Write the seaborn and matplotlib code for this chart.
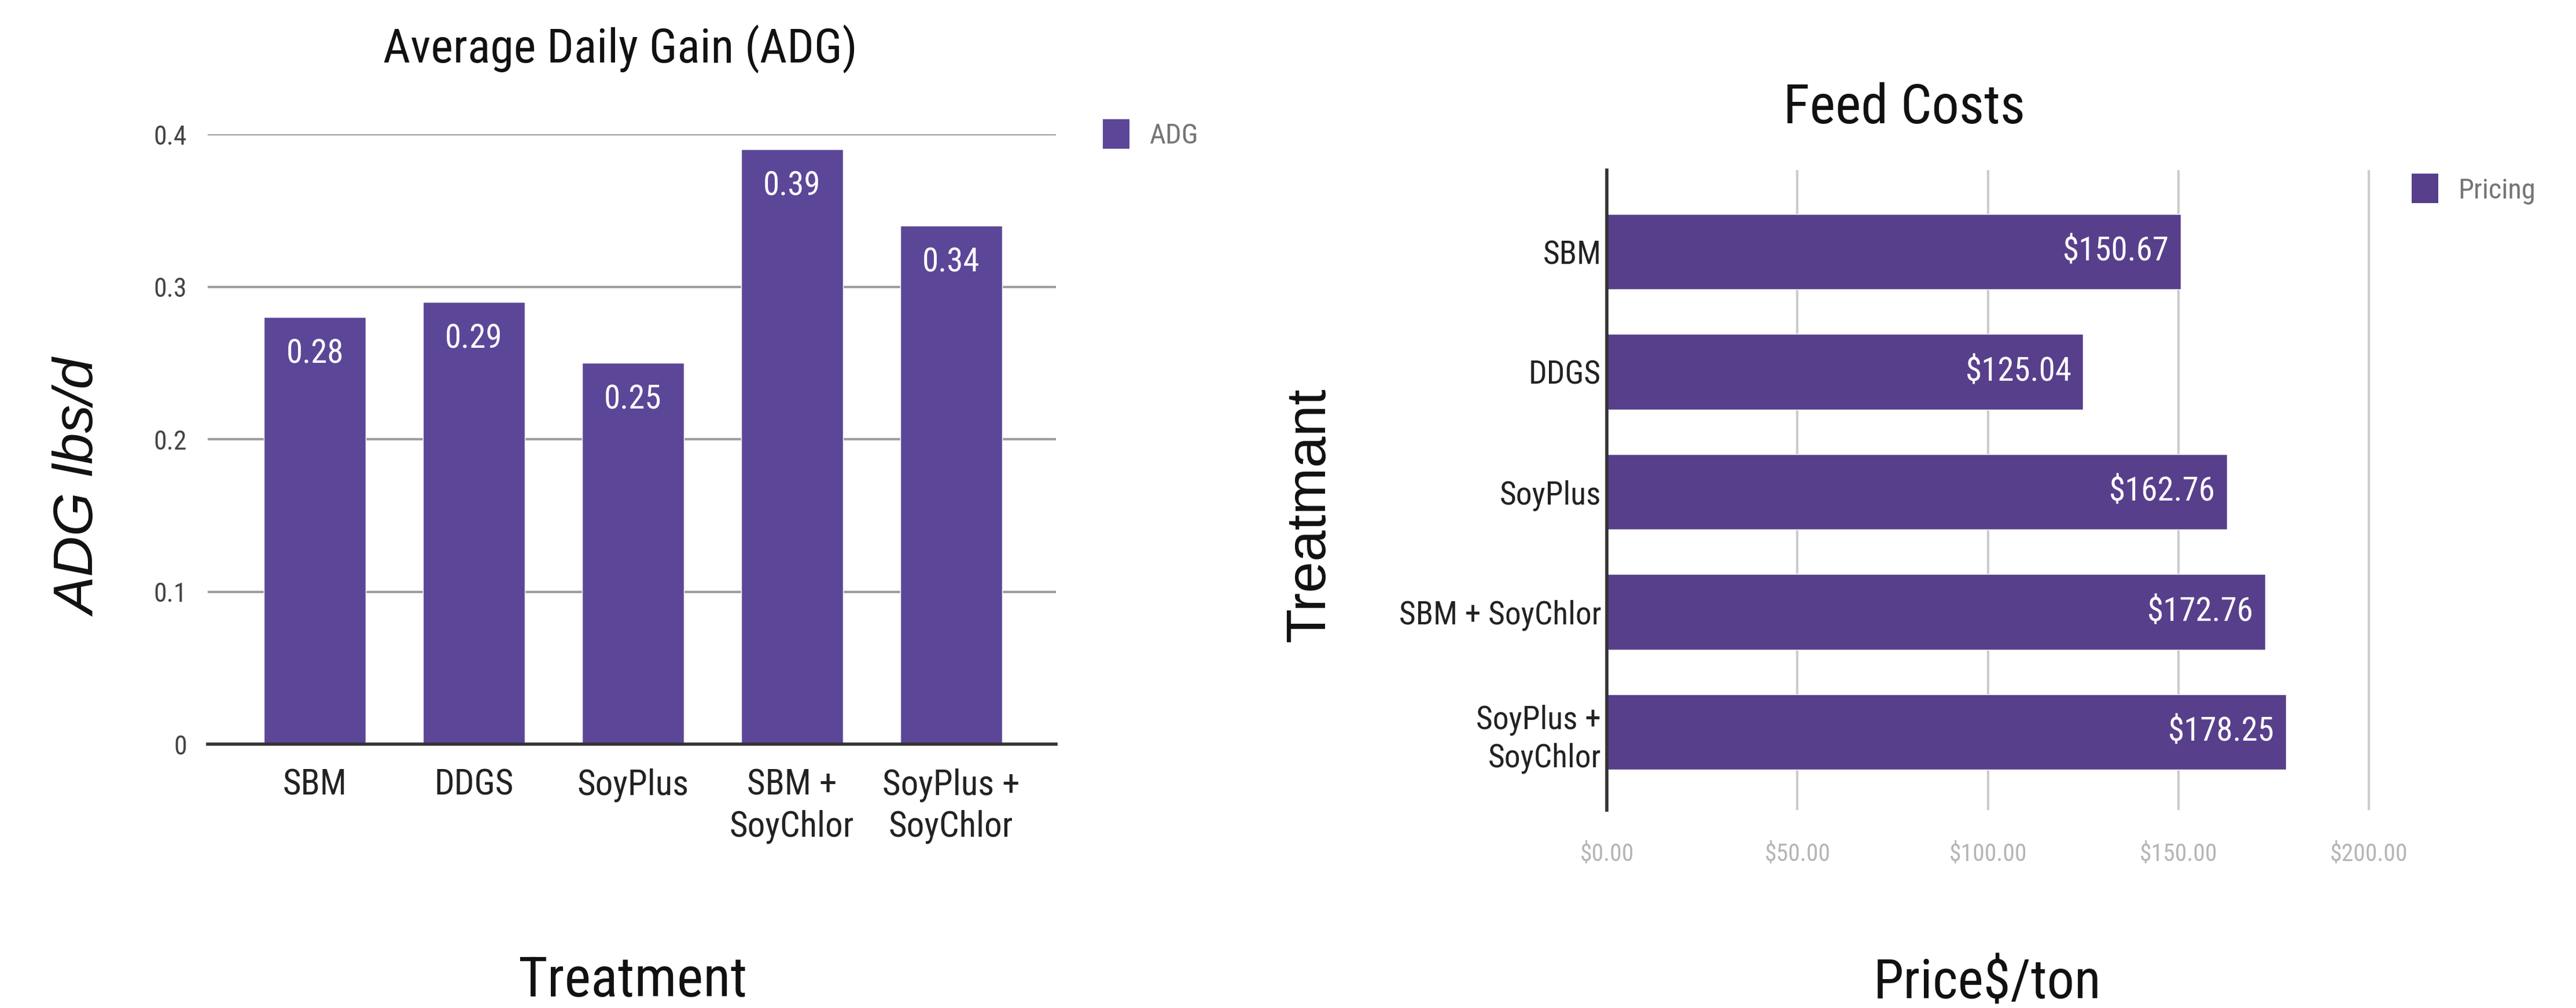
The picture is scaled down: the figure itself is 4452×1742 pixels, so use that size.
import matplotlib
matplotlib.use("Agg")
import matplotlib.pyplot as plt
import seaborn as sns
import pandas as pd
from matplotlib.patches import Patch

# ---- data ----
adg_categories = ["SBM", "DDGS", "SoyPlus", "SBM +\nSoyChlor", "SoyPlus +\nSoyChlor"]
adg_values = [0.28, 0.29, 0.25, 0.39, 0.34]
adg_labels = ["0.28", "0.29", "0.25", "0.39", "0.34"]
adg_yticks = [0, 0.1, 0.2, 0.3, 0.4]
adg_yticklabels = ["0", "0.1", "0.2", "0.3", "0.4"]

cost_categories = ["SBM", "DDGS", "SoyPlus", "SBM + SoyChlor", "SoyPlus +\nSoyChlor"]
cost_values = [150.67, 125.04, 162.76, 172.76, 178.25]
cost_labels = ["$150.67", "$125.04", "$162.76", "$172.76", "$178.25"]
cost_xticks = [0, 50, 100, 150, 200]
cost_xticklabels = ["$0.00", "$50.00", "$100.00", "$150.00", "$200.00"]

sns.set_theme(style="white")
COND = ["Roboto Condensed", "Roboto", "DejaVu Sans"]
plt.rcParams["font.family"] = COND

W, H = 4452, 1742
DPI = 100
fig = plt.figure(figsize=(W / DPI, H / DPI), dpi=DPI)

def frac_box(x0, x1, y0, y1):
    return [x0 / W, 1 - y1 / H, (x1 - x0) / W, (y1 - y0) / H]

PURPLE_L = "#5c4698"
PURPLE_R = "#573f8c"

# ---------------- Left chart ----------------
ax1 = fig.add_axes(frac_box(359, 1825, 232, 1286))
df1 = pd.DataFrame({"Treatment": adg_categories, "ADG": adg_values})
sns.barplot(data=df1, x="Treatment", y="ADG", color=PURPLE_L, width=0.64,
            saturation=1, ax=ax1, zorder=3)
ax1.set_xlim(-0.673, 4.66)
ax1.set_ylim(0, 0.4)
ax1.set_yticks(adg_yticks)
ax1.set_yticklabels(adg_yticklabels)
ax1.yaxis.grid(True, color="#9e9e9e", linewidth=3, zorder=0)
ax1.set_axisbelow(True)
for s in ["top", "right", "left"]:
    ax1.spines[s].set_visible(False)
ax1.spines["bottom"].set_color("#333333")
ax1.spines["bottom"].set_linewidth(4)
ax1.spines["bottom"].set_zorder(4)
ax1.tick_params(axis="y", length=0, pad=26, labelsize=33, labelcolor="#444444")
ax1.tick_params(axis="x", length=0, pad=30, labelsize=44, labelcolor="#222222")
for lbl in ax1.get_xticklabels():
    lbl.set_linespacing(1.3)
for i, (v, t) in enumerate(zip(adg_values, adg_labels)):
    ax1.annotate(t, xy=(i, v), xytext=(0, -64), textcoords="offset pixels",
                 ha="center", va="center", color="white", fontsize=41, zorder=5)
ax1.set_title("Average Daily Gain (ADG)", fontsize=59, x=0.486, pad=89,
              color="#111111")
ax1.set_xlabel("Treatment", fontsize=70, color="#111111")
ax1.xaxis.set_label_coords(0.501, -0.345)
ax1.set_ylabel("ADG lbs/d", fontsize=70, style="italic",
               family=["Liberation Sans", "DejaVu Sans"], color="#111111")
ax1.yaxis.set_label_coords(-0.119, 0.42)
ax1.legend(handles=[Patch(facecolor=PURPLE_L, edgecolor="none", label="ADG")],
           loc="upper left", bbox_to_anchor=(1906 / W, 1 - 206 / H),
           bbox_transform=fig.transFigure, frameon=False, fontsize=35,
           handlelength=0.95, handleheight=1.25, handletextpad=0.7,
           labelcolor="#757575", borderpad=0, borderaxespad=0)

# ---------------- Right chart ----------------
ax2 = fig.add_axes(frac_box(2777, 4127, 294, 1400))
df2 = pd.DataFrame({"Treatmant": cost_categories, "Pricing": cost_values})
sns.barplot(data=df2, x="Pricing", y="Treatmant", color=PURPLE_R, width=0.63,
            orient="h", saturation=1, ax=ax2, zorder=3)
ax2.set_xlim(0, 205)
ax2.set_ylim(4.65, -0.68)
ax2.set_xticks(cost_xticks)
ax2.set_xticklabels(cost_xticklabels)
ax2.xaxis.grid(True, color="#cccccc", linewidth=3, zorder=0)
ax2.set_axisbelow(True)
for s in ["top", "right", "bottom"]:
    ax2.spines[s].set_visible(False)
ax2.spines["left"].set_color("#333333")
ax2.spines["left"].set_linewidth(4)
ax2.spines["left"].set_zorder(4)
ax2.tick_params(axis="x", length=0, pad=40, labelsize=30, labelcolor="#b5b5b5")
ax2.tick_params(axis="y", length=0, pad=7, labelsize=40, labelcolor="#222222")
for lbl in ax2.get_yticklabels():
    lbl.set_linespacing(1.3)
for i, (v, t) in enumerate(zip(cost_values, cost_labels)):
    ax2.annotate(t, xy=(v, i), xytext=(-20, 0), textcoords="offset pixels",
                 ha="right", va="center", color="white", fontsize=41, zorder=5)
ax2.set_title("Feed Costs", fontsize=68, x=0.381, pad=58, color="#111111")
ax2.set_xlabel("Price$/ton", fontsize=68, color="#111111")
ax2.xaxis.set_label_coords(0.487, -0.23)
ax2.set_ylabel("Treatmant", fontsize=70,
               family=["Liberation Sans", "DejaVu Sans"], color="#111111")
ax2.yaxis.set_label_coords(-0.347, 0.462)
ax2.legend(handles=[Patch(facecolor=PURPLE_R, edgecolor="none", label="Pricing")],
           loc="upper left", bbox_to_anchor=(4168 / W, 1 - 300 / H),
           bbox_transform=fig.transFigure, frameon=False, fontsize=35,
           handlelength=0.95, handleheight=1.25, handletextpad=0.7,
           labelcolor="#757575", borderpad=0, borderaxespad=0)

fig.savefig("out.png", dpi=DPI, facecolor="white")
